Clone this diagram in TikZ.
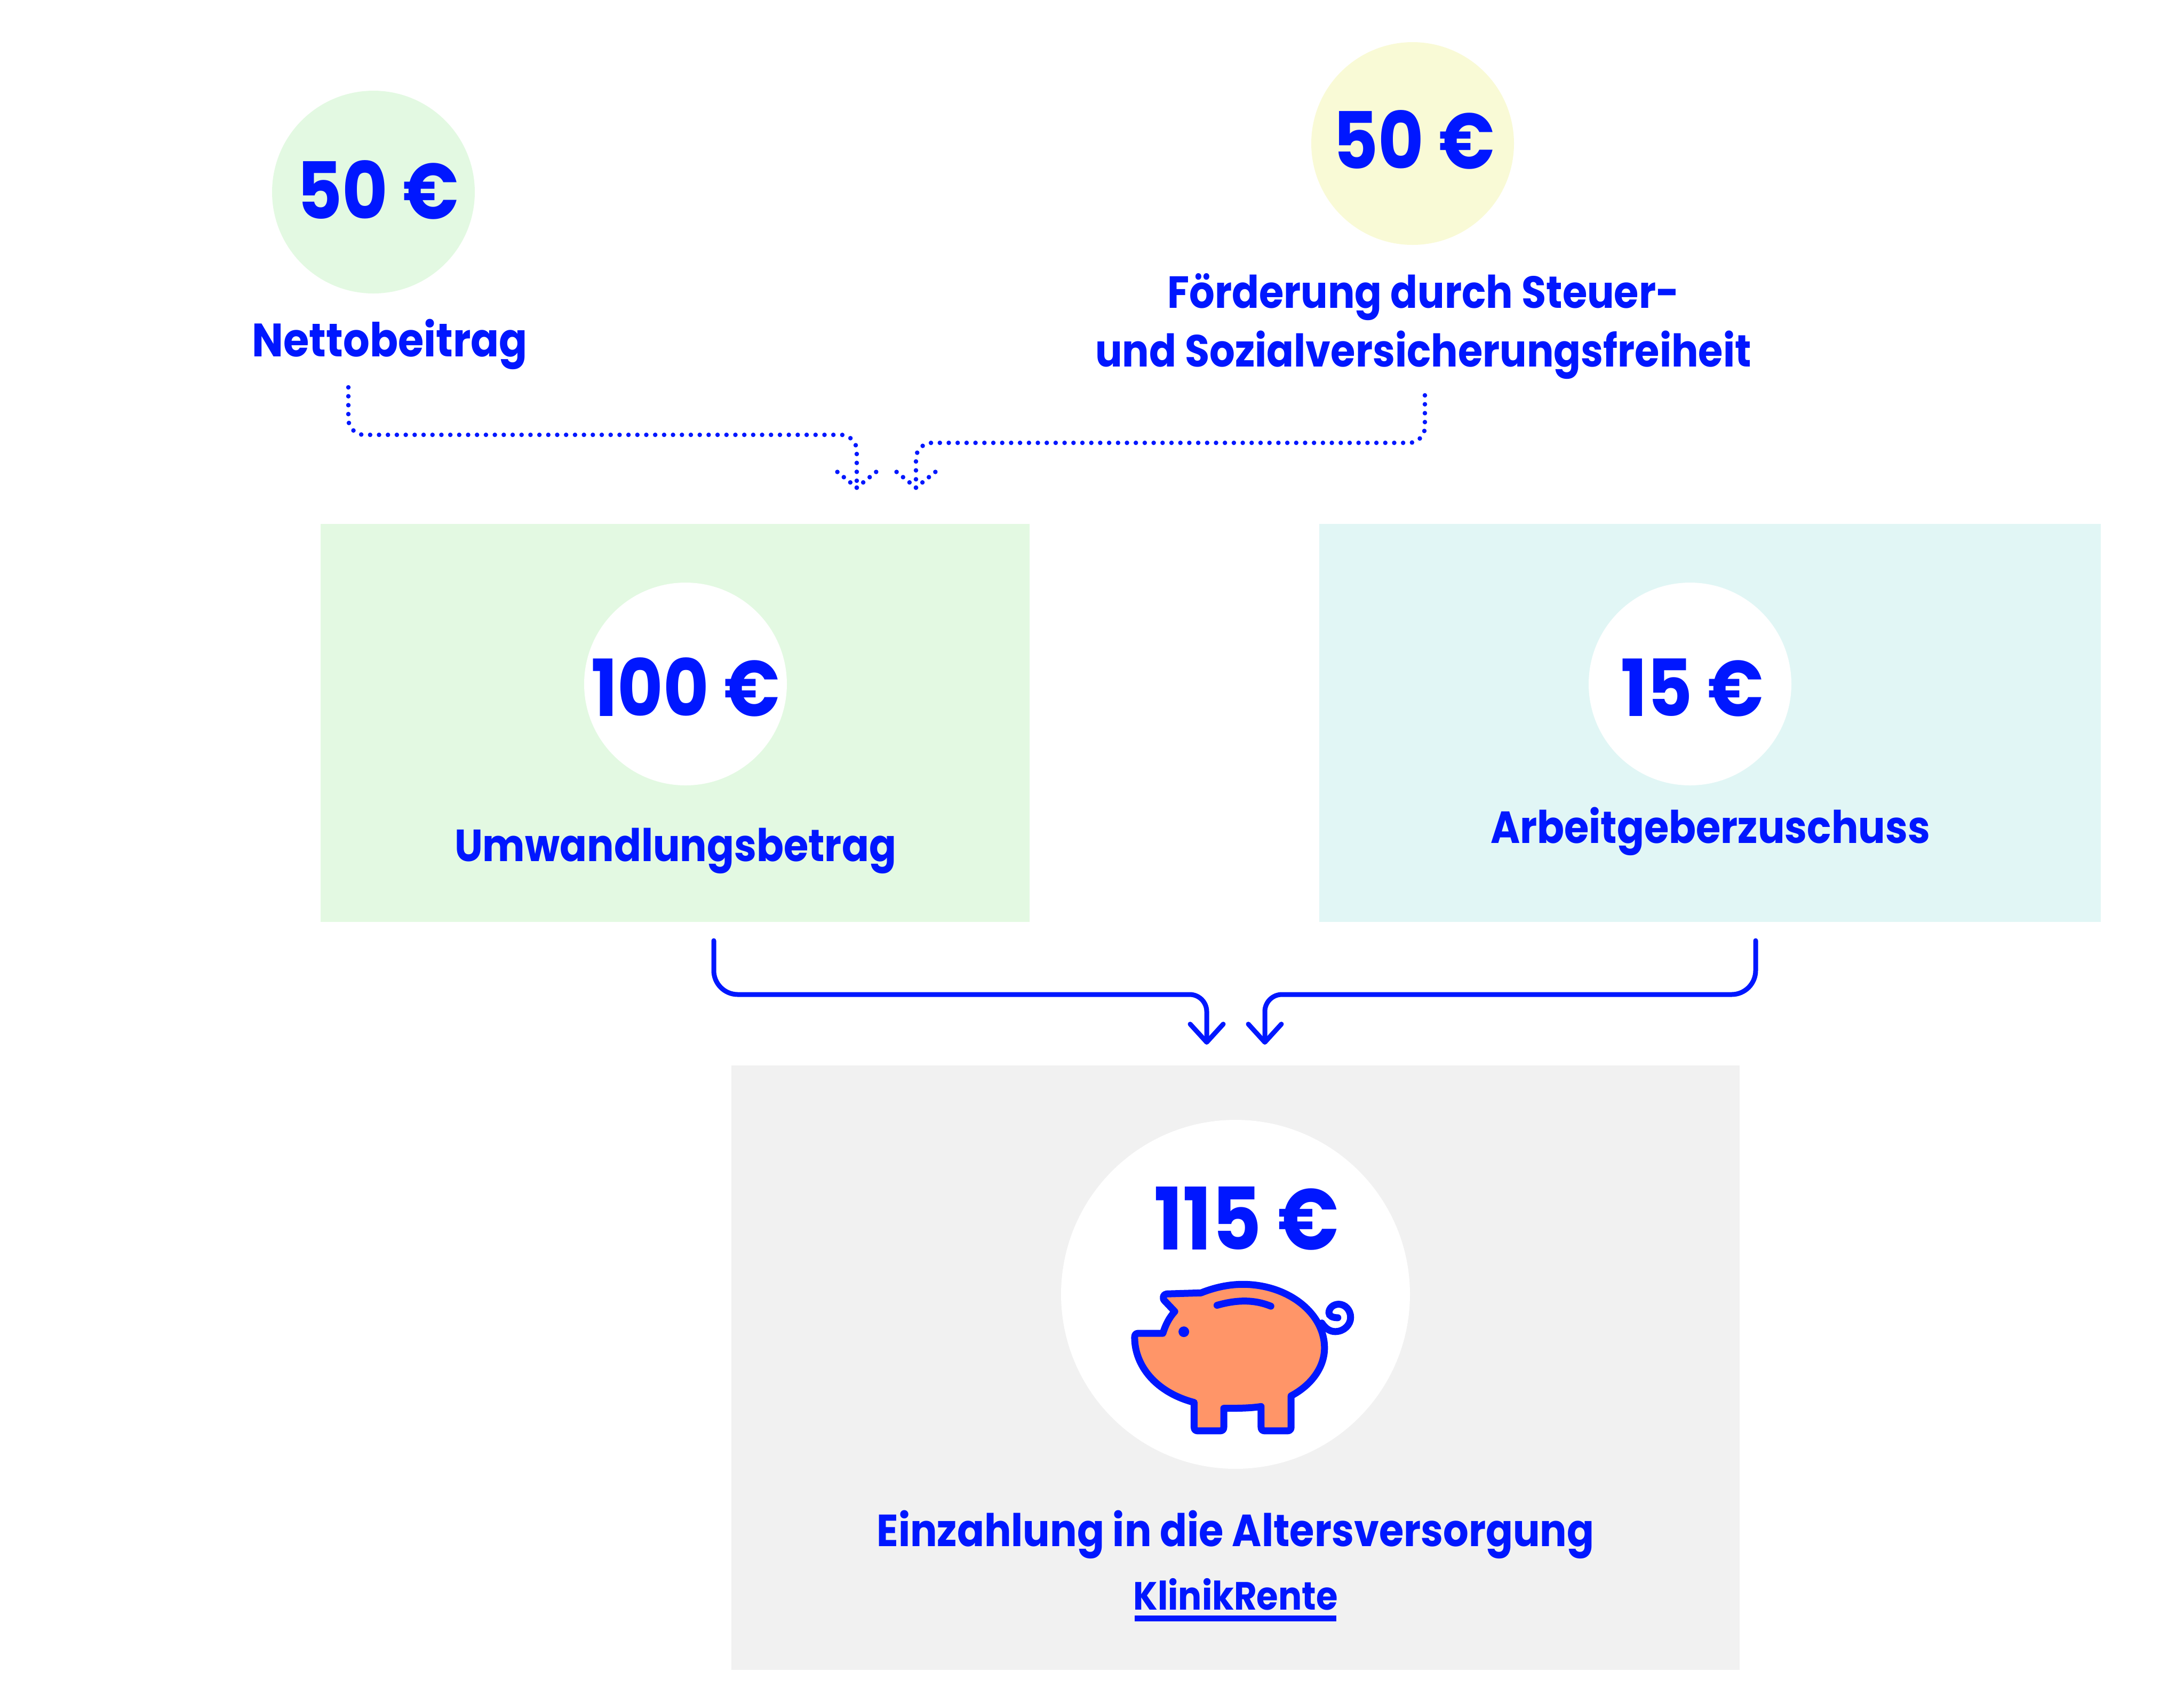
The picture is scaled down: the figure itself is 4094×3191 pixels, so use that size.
\documentclass[tikz,border=0pt]{standalone}
\usepackage{fontspec}
\setmainfont{Poppins}[FakeStretch=0.89]
\usetikzlibrary{arrows.meta}
\definecolor{krblue}{HTML}{0017FF}
\definecolor{krgreen}{HTML}{E3F9E2}
\definecolor{krteal}{HTML}{E1F6F5}
\definecolor{krgray}{HTML}{F1F1F1}
\definecolor{kryellow}{HTML}{F9FAD6}
\definecolor{krorange}{HTML}{FF9568}

\begin{document}
\begin{tikzpicture}[>={Straight Barb[length=3.4mm,width=6.2mm,line width=0.9mm,round]},
  x=0.1mm,y=-0.1mm,
  panel/.style={minimum width=#1,inner sep=0pt,outer sep=0pt},
  disc/.style={circle,fill=white,minimum size=38mm,inner sep=0pt,outer sep=0pt},
  amount/.style={krblue,anchor=base,inner sep=0pt,font=\bfseries\fontsize{42}{42}\selectfont},
  caption/.style={krblue,anchor=base,inner sep=0pt,font=\bfseries\fontsize{24}{24}\selectfont},
  flow/.style={krblue,line width=0.9mm,line cap=round},
  dotflow/.style={krblue,line width=0.85mm,line cap=round,dash pattern=on 0pt off 1.67mm,rounded corners=3mm},
  dottip/.style={krblue,line width=0.85mm,line cap=round,dash pattern=on 0pt off 1.56mm}]

  \useasboundingbox (0,0) rectangle (4094,3191);

  % --- panels ---
  \node[panel=132.9mm,minimum height=74.6mm,fill=krgreen] (umwbox) at (1265.5,1355) {};
  \node[panel=146.5mm,minimum height=74.6mm,fill=krteal]  (agbox)  at (3205.5,1355) {};
  \node[panel=189mm,minimum height=113.3mm,fill=krgray]   (einbox) at (2316,2563) {};

  % --- discs ---
  \node[disc,fill=krgreen]  (nettodisc) at (700,360) {};
  \node[disc,fill=kryellow] (foerdisc)  at (2648,269) {};
  \node[disc] (umwdisc) at (1285,1282) {};
  \node[disc] (agdisc)  at (3168,1282) {};
  \node[disc,minimum size=65.4mm] (eindisc) at (2316,2426) {};

  % --- amounts ---
  \node[amount] (nettoval) at (708,410)   {50 €};
  \node[amount] (foerval)  at (2650,316)  {50 €};
  \node[amount] (umwval)   at (1285,1342) {100 €};
  \node[amount] (agval)    at (3172,1342) {15 €};
  \node[amount,font=\bfseries\fontsize{46}{46}\selectfont] (einval) at (2337,2342) {115 €};

  % --- captions ---
  \node[caption,font=\bfseries\fontsize{25}{25}\selectfont] (nettolab) at (731,668) {Nettobeitrag};
  \node[caption] (foerlabA) at (2668,577)  {Förderung durch Steuer-};
  \node[caption] (foerlabB) at (2668,687)  {und Sozialversicherungsfreiheit};
  \node[caption] (umwlab)   at (1266,1614) {Umwandlungsbetrag};
  \node[caption] (aglab)    at (3206,1580) {Arbeitgeberzuschuss};
  \node[caption] (einlab)   at (2316,2898) {Einzahlung in die Altersversorgung};
  \node[caption,font=\bfseries\fontsize{21}{21}\selectfont] (klinik) at (2316,3017) {KlinikRente};
  \draw[krblue,line width=1.1mm] (2127,3033.5) -- (2505,3033.5);

  % --- solid arrows ---
  \coordinate (umwout) at (1338,1763);
  \coordinate (agout)  at (3291,1763);
  \coordinate (einA)   at (2262,1958);
  \coordinate (einB)   at (2371,1958);
  \draw[flow,->,rounded corners=4.5mm] (umwout) -- (1338,1864) [rounded corners=3.2mm] -- (2262,1864) -- (einA);
  \draw[flow,->,rounded corners=4.5mm] (agout) -- (3291,1864) [rounded corners=3.2mm] -- (2371,1864) -- (einB);

  % --- dotted arrows ---
  \coordinate (nettoout) at (653,726);
  \coordinate (foerout)  at (2671,741);
  \coordinate (umwinA)   at (1606,914);
  \coordinate (umwinB)   at (1717,914);
  \draw[dotflow] (nettoout) |- (1606,815) -- (umwinA);
  \draw[dottip] (umwinA) -- (1569,884);
  \draw[dottip] (umwinA) -- (1643,884);
  \draw[dotflow] (foerout) |- (1717,830) -- (umwinB);
  \draw[dottip] (umwinB) -- (1680,884);
  \draw[dottip] (umwinB) -- (1754,884);

  % --- piggy bank ---
  \begin{scope}[shift={(2050,2330)},x=0.0333mm,y=-0.0333mm]
    \draw[krblue,line width=1.3mm,line join=round,line cap=round,fill=krorange]
      (231,530) .. controls (231,515) and (238,508) .. (250,508) -- (390,508)
      .. controls (405,460) and (425,420) .. (457,385) -- (400,325)
      .. controls (385,310) and (392,287) .. (412,286) -- (605,280)
      .. controls (680,250) and (760,232) .. (840,232)
      .. controls (1093,232) and (1300,393) .. (1300,590)
      .. controls (1300,700) and (1225,800) .. (1112,860) -- (1112,1035)
      .. controls (1112,1050) and (1105,1057) .. (1090,1057) -- (965,1057)
      .. controls (950,1057) and (943,1050) .. (943,1035) -- (943,920)
      .. controls (880,930) and (800,930) .. (733,930) -- (733,1035)
      .. controls (733,1050) and (726,1057) .. (711,1057) -- (588,1057)
      .. controls (573,1057) and (566,1050) .. (566,1035) -- (566,897)
      .. controls (350,840) and (231,690) .. (231,530) -- cycle;
    \draw[krblue,line width=1.3mm,line cap=round] (695,350) .. controls (800,320) and (900,315) .. (998,355);
    \fill[krblue] (508,499) circle (1mm);
    \draw[krblue,line width=1.3mm,line cap=round]
      (1285,450) .. controls (1305,480) and (1330,498) .. (1360,498)
      .. controls (1410,498) and (1447,460) .. (1447,418)
      .. controls (1447,375) and (1415,344) .. (1380,344)
      .. controls (1350,344) and (1325,365) .. (1325,392)
      .. controls (1325,410) and (1345,420) .. (1375,420);
  \end{scope}

\end{tikzpicture}
\end{document}
